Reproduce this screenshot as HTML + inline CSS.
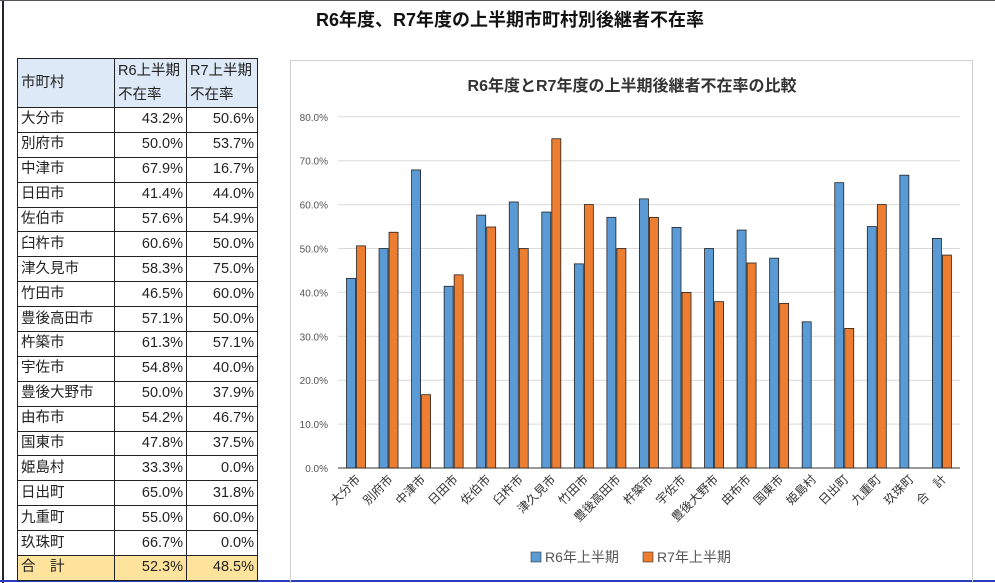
<!DOCTYPE html>
<html><head><meta charset="utf-8"><style>
body{margin:0;width:995px;height:583px;background:#fff;font-family:"Liberation Sans","Noto Sans CJK JP",sans-serif;position:relative;overflow:hidden}
.t{position:absolute;left:0;width:1020px;top:6px;text-align:center;font-size:18px;font-weight:bold;color:#111}
table{position:absolute;left:17px;top:58px;border-collapse:collapse;font-size:14.5px;color:#222}
td{border:1px solid #222;height:23.9px;padding:0 3px;line-height:23px}
td.n{text-align:right}
tr.h td{background:#dde9f6;height:24px;line-height:24px;vertical-align:top}
tr.s td{background:#fde39c}
</style></head><body>
<div style="position:absolute;left:2px;top:0;width:2px;height:583px;background:#223"></div>
<div style="position:absolute;left:0;top:580px;width:995px;height:2px;background:#2a3cc0"></div>
<div style="position:absolute;left:0;top:0;width:995px;height:1px;background:#555"></div>
<div class="t">R6年度、R7年度の上半期市町村別後継者不在率</div>
<table>
<tr class="h"><td rowspan="2" style="width:90px;vertical-align:middle">市町村</td><td style="width:65px;height:24px;border-bottom:none">R6上半期</td><td style="width:64px;border-bottom:none">R7上半期</td></tr>
<tr class="h"><td style="border-top:none">不在率</td><td style="border-top:none">不在率</td></tr>
<tr><td>大分市</td><td class="n">43.2%</td><td class="n">50.6%</td></tr>
<tr><td>別府市</td><td class="n">50.0%</td><td class="n">53.7%</td></tr>
<tr><td>中津市</td><td class="n">67.9%</td><td class="n">16.7%</td></tr>
<tr><td>日田市</td><td class="n">41.4%</td><td class="n">44.0%</td></tr>
<tr><td>佐伯市</td><td class="n">57.6%</td><td class="n">54.9%</td></tr>
<tr><td>臼杵市</td><td class="n">60.6%</td><td class="n">50.0%</td></tr>
<tr><td>津久見市</td><td class="n">58.3%</td><td class="n">75.0%</td></tr>
<tr><td>竹田市</td><td class="n">46.5%</td><td class="n">60.0%</td></tr>
<tr><td>豊後高田市</td><td class="n">57.1%</td><td class="n">50.0%</td></tr>
<tr><td>杵築市</td><td class="n">61.3%</td><td class="n">57.1%</td></tr>
<tr><td>宇佐市</td><td class="n">54.8%</td><td class="n">40.0%</td></tr>
<tr><td>豊後大野市</td><td class="n">50.0%</td><td class="n">37.9%</td></tr>
<tr><td>由布市</td><td class="n">54.2%</td><td class="n">46.7%</td></tr>
<tr><td>国東市</td><td class="n">47.8%</td><td class="n">37.5%</td></tr>
<tr><td>姫島村</td><td class="n">33.3%</td><td class="n">0.0%</td></tr>
<tr><td>日出町</td><td class="n">65.0%</td><td class="n">31.8%</td></tr>
<tr><td>九重町</td><td class="n">55.0%</td><td class="n">60.0%</td></tr>
<tr><td>玖珠町</td><td class="n">66.7%</td><td class="n">0.0%</td></tr>
<tr class="s"><td>合　計</td><td class="n">52.3%</td><td class="n">48.5%</td></tr>
</table>
<svg style="position:absolute;left:0;top:0" width="995" height="583" font-family="Liberation Sans, Noto Sans CJK JP, sans-serif">
<rect x="290.5" y="60.5" width="682" height="530" fill="none" stroke="#d0d0d0"/>
<text x="632" y="91" text-anchor="middle" font-size="16" font-weight="bold" fill="#333">R6年度とR7年度の上半期後継者不在率の比較</text>
<g id="g"></g>
</svg>
<script>
const r6=[43.2,50,67.9,41.4,57.6,60.6,58.3,46.5,57.1,61.3,54.8,50,54.2,47.8,33.3,65,55,66.7,52.3];
const r7=[50.6,53.7,16.7,44,54.9,50,75,60,50,57.1,40,37.9,46.7,37.5,0,31.8,60,0,48.5];
const nm=["大分市","別府市","中津市","日田市","佐伯市","臼杵市","津久見市","竹田市","豊後高田市","杵築市","宇佐市","豊後大野市","由布市","国東市","姫島村","日出町","九重町","玖珠町","合　計"];
let s="";const y0=468,k=4.39;
for(let i=0;i<=8;i++){const y=y0-i*10*k;s+=`<line x1="338" x2="960" y1="${y}" y2="${y}" stroke="${i?'#d9d9d9':'#333'}"/><text x="328" y="${y+4}" text-anchor="end" font-size="10" fill="#555">${(i*10).toFixed(1)}%</text>`;}
for(let i=0;i<19;i++){const c=356+i*32.55;
if(r6[i]>0)s+=`<rect x="${c-9.5}" y="${y0-r6[i]*k}" width="9" height="${r6[i]*k}" fill="#5b9bd5" stroke="#222" stroke-width="0.8"/>`;
if(r7[i]>0)s+=`<rect x="${c+0.5}" y="${y0-r7[i]*k}" width="9" height="${r7[i]*k}" fill="#ed7d31" stroke="#222" stroke-width="0.8"/>`;
s+=`<text transform="translate(${c+5},480) rotate(-45)" text-anchor="end" font-size="12" fill="#333">${nm[i]}</text>`;}
s+=`<rect x="531" y="552" width="10" height="10" fill="#5b9bd5" stroke="#333" stroke-width="0.6"/><text x="545" y="562" font-size="14" fill="#555">R6年上半期</text>`;
s+=`<rect x="643" y="552" width="10" height="10" fill="#ed7d31" stroke="#333" stroke-width="0.6"/><text x="657" y="562" font-size="14" fill="#555">R7年上半期</text>`;
document.getElementById("g").innerHTML=s;
</script>
</body></html>
